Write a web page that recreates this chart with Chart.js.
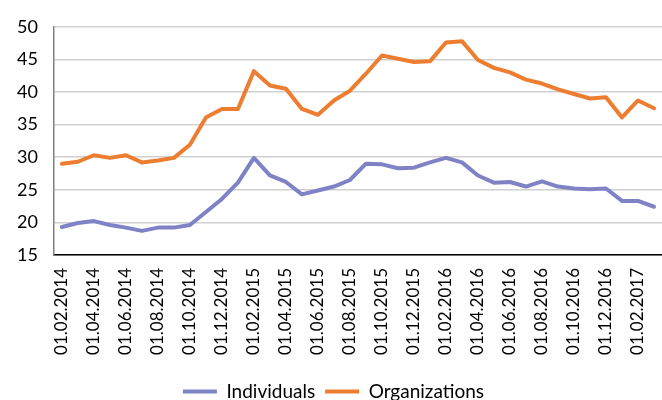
<html>
	<head>
		<meta charset="utf-8" />
		<title>Individuals / Organizations</title>
		<script src="https://cdn.jsdelivr.net/npm/chart.js@4"></script>
		<style>
			body { margin: 0; background: #fff; }
		</style>
		<script>
			// monthly dates, 01.02.2014 .. 01.03.2017
			const months = ["01.02.2014","01.03.2014","01.04.2014","01.05.2014","01.06.2014","01.07.2014","01.08.2014","01.09.2014","01.10.2014","01.11.2014","01.12.2014","01.01.2015",
				"01.02.2015","01.03.2015","01.04.2015","01.05.2015","01.06.2015","01.07.2015","01.08.2015","01.09.2015","01.10.2015","01.11.2015","01.12.2015","01.01.2016",
				"01.02.2016","01.03.2016","01.04.2016","01.05.2016","01.06.2016","01.07.2016","01.08.2016","01.09.2016","01.10.2016","01.11.2016","01.12.2016","01.01.2017",
				"01.02.2017","01.03.2017"];

			const individuals = [19.3,19.9,20.2,19.6,19.2,18.7,19.2,19.2,19.6,21.6,23.6,26.1,
				29.9,27.2,26.2,24.3,24.9,25.5,26.5,29.0,28.9,28.3,28.4,29.2,
				29.9,29.2,27.2,26.1,26.2,25.5,26.3,25.5,25.2,25.1,25.2,23.3,
				23.3,22.4];

			const organizations = [29.0,29.3,30.3,29.9,30.3,29.2,29.5,29.9,31.9,36.1,37.4,37.4,
				43.2,41.0,40.5,37.4,36.5,38.7,40.2,42.8,45.6,45.1,44.6,44.7,
				47.6,47.8,44.9,43.7,43.0,41.9,41.3,40.4,39.7,39.0,39.2,36.1,
				38.7,37.5];

			const seriesNames = ["Individuals", "Organizations"];
		</script>
	</head>
	<body>
		<canvas id="chart" width="662" height="400"></canvas>
		<script>
			const fonte = "Lato, 'Open Sans', sans-serif";

			new Chart(document.getElementById('chart'), {
				type: 'line',
				data: {
					labels: months,
					datasets: [
						{ label: seriesNames[0], data: individuals, borderColor: '#7f83c6', backgroundColor: '#7f83c6' },
						{ label: seriesNames[1], data: organizations, borderColor: '#ed7d31', backgroundColor: '#ed7d31' }
					]
				},
				options: {
					responsive: false,
					animation: false,
					layout: { padding: { top: 24, right: -4, left: 1, bottom: -11 } },
					elements: {
						line: { borderWidth: 4, tension: 0, borderCapStyle: 'round', borderJoinStyle: 'round' },
						point: { radius: 0 }
					},
					scales: {
						x: {
							offset: true,
							grid: { display: false, drawTicks: false },
							border: { display: true, color: '#000', width: 1.5 },
							ticks: {
								autoSkip: false,
								minRotation: 90,
								maxRotation: 90,
								padding: 13,
								color: '#000',
								font: { family: fonte, size: 17 },
								callback: function (v, i) { return i % 2 === 0 ? this.getLabelForValue(v) : ''; }
							},
							afterFit: function (scale) {
								// leave blank room under the rotated dates, let the plot run to the right edge
								scale.height = 117;
								scale.paddingRight = 0;
								scale.paddingLeft = 0;
							}
						},
						y: {
							min: 15,
							max: 50,
							ticks: { stepSize: 5, color: '#000', padding: 16, font: { family: fonte, size: 18 } },
							grid: { color: '#d0d0d0', lineWidth: 1.5, drawTicks: false },
							border: { display: true, color: '#808080', width: 1.5 }
						}
					},
					plugins: {
						legend: {
							position: 'bottom',
							labels: {
								boxWidth: 34,
								boxHeight: 4,
								padding: 10,
								color: '#000',
								font: { family: fonte, size: 19 },
								generateLabels: function (chart) {
									const items = Chart.defaults.plugins.legend.labels.generateLabels(chart);
									items.forEach(it => { it.lineWidth = 0; });
									return items;
								}
							}
						},
						tooltip: { enabled: false }
					}
				}
			});
		</script>
	</body>
</html>
